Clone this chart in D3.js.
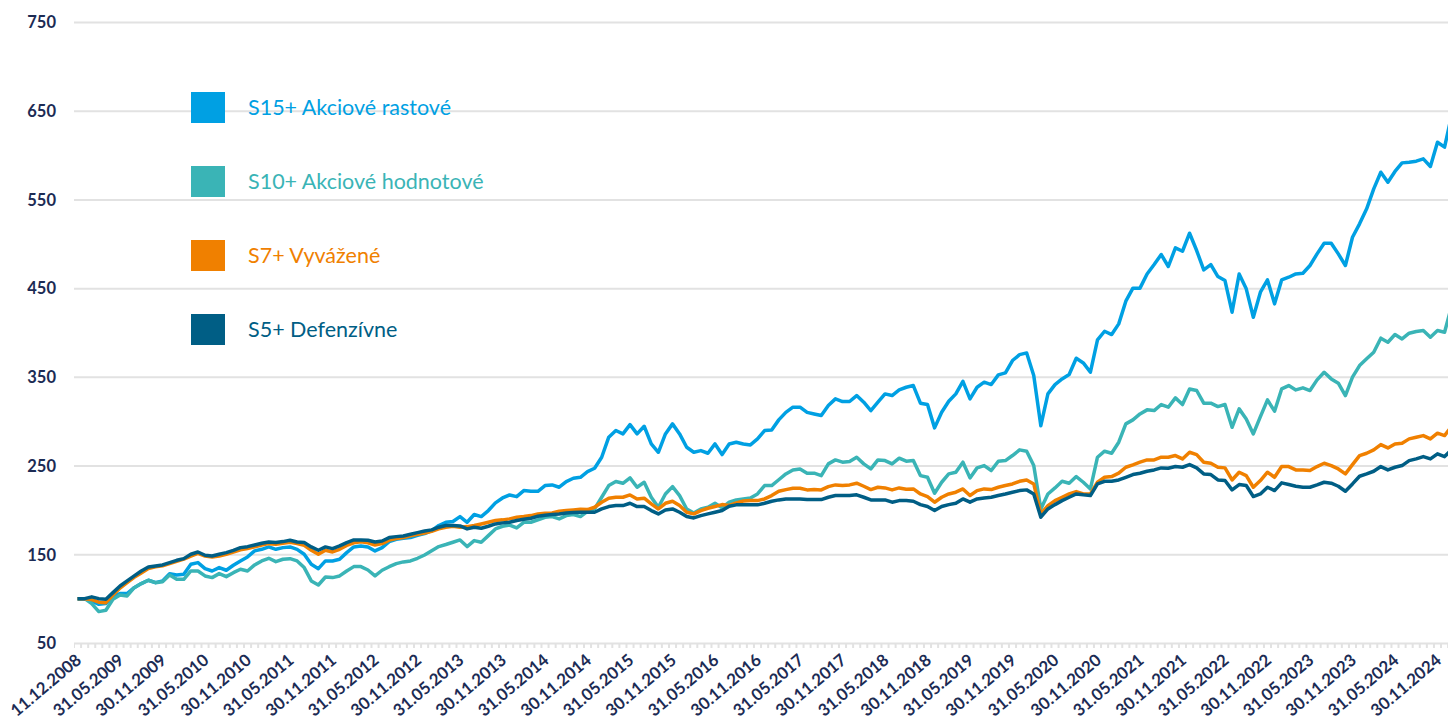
<!DOCTYPE html>
<html>
<head>
<meta charset="utf-8">
<script src="https://cdn.jsdelivr.net/npm/d3@7"></script>
<style>
  html, body { margin: 0; padding: 0; background: #ffffff; }
  svg { display: block; }
</style>
</head>
<body>
<svg id="chart" width="1448" height="722"></svg>
<script>
// Monthly index values (start = 100), first point 11.12.2008, then month ends
const s15 = [100,100,97.4,93.6,94.4,103,105.7,105.7,112.4,117,120.7,118,120,128,126.7,127.5,138.7,140.6,133.8,131.2,
  135,132,137.6,142.5,147,153.8,155.6,158.3,155.6,157.5,158.3,155.6,150,138.7,133.8,142.5,142.5,144.4,151.9,158.3,
  159.4,158.3,153.8,157.5,164.3,166.9,168,168.8,171.4,173.3,176.7,182.4,186.1,186.9,192.5,186.1,194.8,192.5,199.3,207.9,
  213.5,216.9,215,221.8,221,221,227.5,228.2,225.6,232,235.7,236.8,243.2,247,259.4,282,289.5,285.7,296.2,285.7,
  294.3,274.4,265,285.7,297,285.7,270.7,265,266.9,263.9,274.4,262.4,274.4,276.3,274.4,273.3,280,289.5,290.2,301.5,
  310,315.8,315.8,310,308.2,306.4,317.6,325.2,322.2,322.2,328.9,321.4,312,321.4,330.8,328.9,335.3,338.3,340.2,320.3,
  318.8,292.5,310.1,322.5,330.8,345,325.2,338.3,344,341.3,352.2,354.5,368.4,375.1,377,351.5,295,330.8,341.3,347.7,
  352.6,371,365.7,355.2,391.7,401.4,397.7,409.7,435.3,450,450,466,476.6,487.9,474.4,495.4,491.6,511.9,492.4,470.6,
  476.6,463.1,458.6,422.9,466,449.2,417.2,445.4,459.3,432.3,459.3,462.3,466,466.8,475.5,488.6,500.7,500.7,488.6,475.5,
  507.4,522.5,539.4,561.9,580.7,569.4,581.5,591.2,592,593.1,595.7,587.1,614.5,608.9,645];

const s10 = [100,100,94.4,85.4,86.9,99.3,104.2,103,112.4,117,120.7,118,119,126.7,121.8,121.8,131.2,131.2,125.6,123.7,
  128.2,124.8,129.3,133.1,131.2,138,142.5,145.5,141.7,144.4,145.1,142.5,135,120,115.4,124.4,123.7,125.6,131.2,136.1,
  136.1,132.3,125.6,132,136,139.5,141.4,142.5,145.5,149.2,154,158.7,161,163.6,166.2,158.7,165.4,163.6,171,178.6,
  181.6,183,179.7,186.1,186.1,188.7,191.7,192.5,189.9,193.6,194.8,192.5,198.5,201.1,214.3,227.5,232,230,236.1,225.6,
  231.2,214.3,203,218,226.3,216.2,201.1,196.6,201.1,203,207.5,202.3,208.7,211.3,212.4,213.5,218,227.5,227.5,234,
  240.6,245.1,246.2,241.4,241.4,238.7,251.9,256.4,253.8,254.5,259.4,251.9,246.2,256.4,255.6,251.9,258.3,254.9,255.6,238.7,
  236.8,218.8,231.2,240.6,242.5,253.8,236.1,247.4,250,244.4,254.9,255.6,261.3,267.7,266.2,250,201.1,218,224.8,232.3,
  230.1,237.6,231.2,223.7,259.4,266.2,263.9,276.3,297,301.5,308.2,312.8,312,318.8,315.8,326.3,318.8,336.4,334.6,320.3,
  320.3,316.5,318.8,293.2,313.9,302.6,285.7,305.2,324,311.3,336.4,340.2,335.3,337.6,334.6,346.6,355.2,347.7,342.8,328.9,
  349.6,362.7,370.3,377.8,393.6,389,397.7,392.8,399.2,401.1,402.2,394.7,402.2,400.3,430];

const s7 = [100,100,99,96,95.5,104,112,118,124,129,134,136,137,139.5,142,144.5,148,151,148,147,
  148,150,152.6,155,156.4,158.3,160.5,162,161.3,162.4,163.5,162,160,154.5,150,154.5,152.6,155.6,160,163,
  164,163,160.5,162,166,167.7,168.8,170.7,172.5,174,176,178.6,180.5,181.6,180.5,181.2,182.4,184.2,186.1,188,
  188.8,189.9,191.7,192.5,193.6,195.5,196.3,196.6,198.5,199.3,200,200.8,200.4,203,208.7,213.2,214.3,214.3,216.9,212.4,
  213.2,206.8,201.1,207.5,209.8,204.9,197.4,195.5,199.3,201.9,203.8,206,205,208,210,210.5,210.5,212.4,216.2,221,
  222.9,224.4,224.4,222.6,222.9,222.6,226.3,228.2,227.5,228.2,230.1,226.7,222.9,225.6,224.8,222.6,224.8,223.3,223.7,218,
  215,208.7,214.3,218,220,223.7,216.2,221.8,223.7,222.9,225.6,227.5,229.3,232.3,233.8,229.3,195.5,204.9,210.5,214.3,
  218,220.7,218,218,231.2,236.8,237.6,241.4,248.1,250.8,253.8,256.4,256.4,259.4,259.4,261.3,257.5,265,262.4,253.8,
  252.6,248.1,247.4,233.8,242.5,238.7,225.6,233.1,242.5,236.8,248.9,248.9,245.1,245.1,244.4,248.9,252.6,250,246.2,240.6,
  251.1,261.3,263.9,267.7,273.7,269.9,274.4,275.2,280.1,281.9,283.8,280.1,286.5,283.8,294];

const s5 = [100,100,102,100,99.3,106.8,114.3,120,125.6,131.2,135.7,136.8,138,140.6,143.2,145.1,150,152.6,148.9,148.1,
  150,151.9,154.5,157.5,158.6,160.5,162.4,163.9,163.2,164.3,165.8,163.9,163.2,158.3,154.5,158.3,156.4,159.4,163.2,166.2,
  166.2,165.8,163.9,165,168.8,169.9,170.7,172.5,174.4,176.3,177.5,180.5,182.4,182.4,182,178.6,180.5,179.3,181.6,184.2,
  185.4,186.1,188,189.5,190.6,192.9,194,194.8,195.5,196.6,197,197.4,197.4,197.4,201.1,203.8,204.9,204.9,207.5,203.8,
  203.8,199.3,195.5,200,201.1,197.4,192.5,191,193.6,195.5,197.4,199.3,204.2,205.7,205.7,205.7,205.7,207.5,209.8,211.3,
  212.4,212.4,212.4,211.7,211.7,211.7,214.3,216.2,216.2,216.2,217,214.3,211.3,211.3,211.3,208.7,210.5,210.5,209.8,206,
  203.8,199.3,203.8,206,207.5,212.4,208.7,212.4,213.5,214.3,216.2,218,220,221.8,222.6,218,191.8,201.1,206,210.5,
  214.3,218,217,216.2,229.3,232.3,232.3,233.8,236.8,239.9,241.4,243.6,245.1,247.4,247,248.9,248.1,251.1,247.4,240.6,
  239.9,233.8,233.1,222.6,228.6,227.5,215.1,218,225.6,221.8,230.5,228.6,226.7,225.6,225.6,228.2,231.2,230.1,226.7,221.1,
  229.3,238,240.6,243.6,248.9,245.1,248.1,250,255.6,257.5,260.1,257.5,263.2,260.1,268];

const seriesNames = ["S15+ Akciové rastové", "S10+ Akciové hodnotové", "S7+ Vyvážené", "S5+ Defenzívne"];
const seriesColors = ["#00a0e3", "#3ab4b6", "#f08000", "#005e85"];
const seriesValues = [s15, s10, s7, s5];

const yTicks = [50, 150, 250, 350, 450, 550, 650, 750];
const tickLabels = ["11.12.2008","31.05.2009","30.11.2009","31.05.2010","30.11.2010","31.05.2011","30.11.2011",
  "31.05.2012","30.11.2012","31.05.2013","30.11.2013","31.05.2014","30.11.2014","31.05.2015","30.11.2015",
  "31.05.2016","30.11.2016","31.05.2017","30.11.2017","31.05.2018","30.11.2018","31.05.2019","30.11.2019",
  "31.05.2020","30.11.2020","31.05.2021","30.11.2021","31.05.2022","30.11.2022","31.05.2023","30.11.2023",
  "31.05.2024","30.11.2024"];

// Category labels: start date followed by month ends
const fmt = d3.timeFormat("%d.%m.%Y");
const categories = ["11.12.2008"].concat(
  d3.range(1, s15.length).map(k => fmt(d3.timeDay.offset(new Date(2009, k - 1, 1), -1)))
);

const svg = d3.select("#chart");
const W = 1448, H = 722;
const plotLeft = 74, plotTop = 22, plotBottom = 643;
const step = 7.083;
const plotRight = plotLeft + step * categories.length;

const x = d3.scalePoint().domain(categories).range([plotLeft, plotRight]).padding(0.5);
const y = d3.scaleLinear().domain([50, 750]).range([plotBottom, plotTop]);

const ink = "#1c2b54";
const gridColor = "#e2e2e2";
const font = "Lato, 'Open Sans', sans-serif";

svg.append("defs").append("clipPath").attr("id", "clip")
  .append("rect").attr("x", plotLeft).attr("y", 0).attr("width", W - plotLeft).attr("height", H);

// Horizontal gridlines and value labels
const yAxis = d3.axisLeft(y).tickValues(yTicks).tickSize(-(W - plotLeft)).tickPadding(18).tickFormat(d3.format("d"));
const yg = svg.append("g").attr("transform", `translate(${plotLeft},0)`).call(yAxis);
yg.select(".domain").remove();
yg.selectAll(".tick line").attr("stroke", gridColor).attr("stroke-width", 2);
yg.selectAll(".tick text")
  .attr("fill", ink).attr("font-family", font)
  .attr("font-weight", "bold").attr("font-size", 16.5).attr("dy", "0.35em");

// Small tick marks under the base line, one per month boundary
const bandEdges = d3.range(categories.length + 1).map(k => plotLeft + k * x.step());
svg.append("g").attr("clip-path", "url(#clip)")
  .selectAll("line").data(bandEdges).join("line")
  .attr("x1", d => d).attr("x2", d => d)
  .attr("y1", plotBottom).attr("y2", plotBottom + 5)
  .attr("stroke", gridColor).attr("stroke-width", 2);

// Rotated date labels every six months
svg.append("g").selectAll("text").data(tickLabels).join("text")
  .attr("transform", d => `translate(${x(d) + 5},${plotBottom + 19}) rotate(-40)`)
  .attr("text-anchor", "end")
  .attr("fill", ink).attr("font-family", font)
  .attr("font-weight", "bold").attr("font-size", 16.8)
  .text(d => d);

// Lines
const line = d3.line().x((d, i) => x(categories[i])).y(d => y(d));
svg.append("g").attr("clip-path", "url(#clip)")
  .selectAll("path").data(seriesValues).join("path")
  .attr("d", d => line(d))
  .attr("fill", "none")
  .attr("stroke", (d, i) => seriesColors[i])
  .attr("stroke-width", 3.5)
  .attr("stroke-linejoin", "round");

// Legend
const lg = svg.append("g").selectAll("g").data(seriesNames).join("g")
  .attr("transform", (d, i) => `translate(191,${92 + i * 74})`);
lg.append("rect").attr("width", 34).attr("height", 31).attr("fill", (d, i) => seriesColors[i]);
lg.append("text").attr("x", 57).attr("y", 23)
  .attr("fill", (d, i) => seriesColors[i])
  .attr("font-family", font).attr("font-size", 21.5)
  .text(d => d);
</script>
</body>
</html>
